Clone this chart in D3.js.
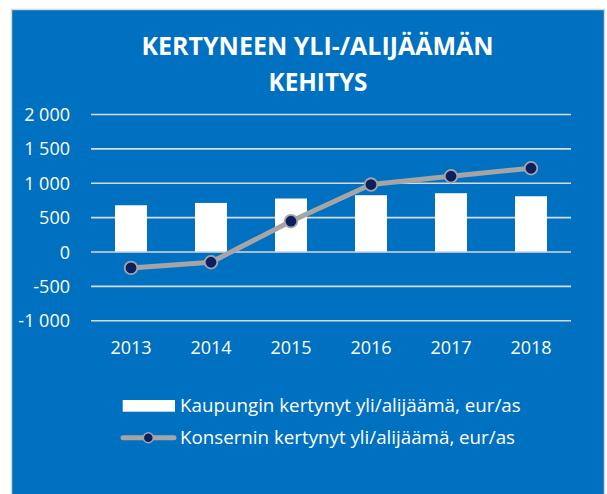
<!DOCTYPE html>
<html>
<head>
<meta charset="utf-8">
<script src="https://cdn.jsdelivr.net/npm/d3@7"></script>
<style>
html,body{margin:0;padding:0;background:#fff;}
svg{display:block;}
text{font-family:"Open Sans","Noto Sans",sans-serif;}
</style>
</head>
<body>
<svg id="chart" width="607" height="494"></svg>
<script>
const years = ["2013","2014","2015","2016","2017","2018"];
const kaupunki = [673, 707, 771, 819, 848, 804];
const konserni = [-238, -156, 441, 974, 1095, 1211];
const yTicks = [-1000, -500, 0, 500, 1000, 1500, 2000];
const titleLines = ["KERTYNEEN YLI-/ALIJÄÄMÄN", "KEHITYS"];
const seriesNames = ["Kaupungin kertynyt yli/alijäämä, eur/as", "Konsernin kertynyt yli/alijäämä, eur/as"];

const svg = d3.select("#chart");
const blue = "#0070c0";

svg.append("rect").attr("x", 11.5).attr("y", 9.5).attr("width", 593).attr("height", 490)
  .attr("fill", blue).attr("stroke", "#d6d6d6").attr("stroke-width", 1.5);

const x = d3.scaleBand().domain(years).range([91, 571]).paddingInner(0).paddingOuter(0);
const y = d3.scaleLinear().domain([-1000, 2000]).range([320.3, 114]);

const fmt = v => {
  const s = Math.abs(v).toString().replace(/\B(?=(\d{3})+(?!\d))/g, " ");
  return (v < 0 ? "-" : "") + s;
};

// gridlines + y labels
const yAxis = d3.axisLeft(y).tickValues(yTicks).tickSize(-480).tickFormat(fmt).tickPadding(21);
const gy = svg.append("g").attr("transform", "translate(91,0)").call(yAxis);
gy.select(".domain").remove();
gy.selectAll(".tick line").attr("stroke", "#d9d9d9").attr("stroke-width", 1.6);
gy.selectAll(".tick text").attr("fill", "#fff").attr("font-size", 18).attr("dy", "0.36em");

// x axis labels
const xAxis = d3.axisBottom(x).tickSize(0).tickPadding(0);
const gx = svg.append("g").attr("transform", "translate(0,341)").call(xAxis);
gx.select(".domain").remove();
gx.selectAll(".tick text").attr("fill", "#fff").attr("font-size", 18).attr("dy", "0.71em");

// bars
const bw = 32;
svg.append("g").selectAll("rect").data(kaupunki).join("rect")
  .attr("x", (d, i) => x(years[i]) + x.bandwidth() / 2 - bw / 2)
  .attr("width", bw)
  .attr("y", d => y(Math.max(0, d)))
  .attr("height", d => Math.abs(y(d) - y(0)))
  .attr("fill", "#fff");

// line
const line = d3.line().x((d, i) => x(years[i]) + x.bandwidth() / 2).y(d => y(d));
svg.append("path").datum(konserni).attr("d", line)
  .attr("fill", "none").attr("stroke", "#a5a5a5").attr("stroke-width", 5).attr("stroke-linejoin", "round");
svg.append("g").selectAll("circle").data(konserni).join("circle")
  .attr("cx", (d, i) => x(years[i]) + x.bandwidth() / 2)
  .attr("cy", d => y(d))
  .attr("r", 6.3)
  .attr("fill", "#0d1f5e").attr("stroke", "#a5a5a5").attr("stroke-width", 1.8);

// title
const title = svg.append("g").attr("fill", "#fff").attr("font-weight", "bold").attr("text-anchor", "middle");
title.append("text").attr("x", 317.5).attr("y", 55).attr("font-size", 25)
  .attr("textLength", 352).attr("lengthAdjust", "spacingAndGlyphs").text(titleLines[0]);
title.append("text").attr("x", 318).attr("y", 90.7).attr("font-size", 25)
  .attr("textLength", 99).attr("lengthAdjust", "spacingAndGlyphs").text(titleLines[1]);

// legend
const lg = svg.append("g");
lg.append("rect").attr("x", 122.7).attr("y", 400).attr("width", 52.3).attr("height", 11.7).attr("fill", "#fff");
lg.append("text").attr("x", 180).attr("y", 411.7).attr("fill", "#fff").attr("font-size", 18)
  .attr("textLength", 340.7).attr("lengthAdjust", "spacingAndGlyphs").text(seriesNames[0]);
lg.append("line").attr("x1", 123).attr("x2", 174).attr("y1", 437.7).attr("y2", 437.7)
  .attr("stroke", "#a5a5a5").attr("stroke-width", 5).attr("stroke-linecap", "round");
lg.append("circle").attr("cx", 148.3).attr("cy", 437.7).attr("r", 5)
  .attr("fill", "#0d1f5e").attr("stroke", "#a5a5a5").attr("stroke-width", 1.5);
lg.append("text").attr("x", 180).attr("y", 443.7).attr("fill", "#fff").attr("font-size", 18)
  .attr("textLength", 335).attr("lengthAdjust", "spacingAndGlyphs").text(seriesNames[1]);
</script>
</body>
</html>
